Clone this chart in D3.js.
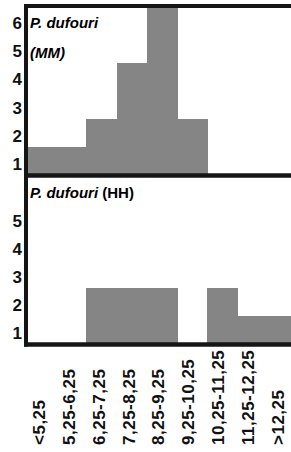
<!DOCTYPE html>
<html>
<head>
<meta charset="utf-8">
<script src="https://cdn.jsdelivr.net/npm/d3@7"></script>
<style>
  body { margin: 0; background: #fff; }
  svg { display: block; font-family: Arial, "Liberation Sans", sans-serif; }
</style>
</head>
<body>
<div id="chart"></div>
<script>
// size classes (mm)
var bins = ["<5,25", "5,25-6,25", "6,25-7,25", "7,25-8,25", "8,25-9,25",
            "9,25-10,25", "10,25-11,25", "11,25-12,25", ">12,25"];
// frequencies
var mmCounts = [1.5, 1.5, 2.5, 4.5, 6.5, 2.5, 0, 0, 0];
var hhCounts = [0, 0, 2.5, 2.5, 2.5, 0, 2.5, 1.5, 1.5];
var topTicks = [1, 2, 3, 4, 5, 6];
var bottomTicks = [1, 2, 3, 4, 5];

var w = 291, h = 452;
var left = 26;

var svg = d3.select("#chart")
  .append("svg")
    .attr("width", w)
    .attr("height", h);

var x = d3.scaleBand()
  .domain(bins)
  .range([left, 298])
  .padding(0);
// the class labels sit a little left of the bar centres
var xLab = x.copy().range([24, 293]);

// each panel has its own y scale, same domain
var yTop = d3.scaleLinear().domain([0.5, 6.5]).range([175.5, 6]);
var yBot = d3.scaleLinear().domain([0.5, 6.5]).range([344.5, 176]);

function drawPanel(data, y, ticks) {
  svg.append("g")
    .attr("shape-rendering", "crispEdges")
    .selectAll("rect")
    .data(data)
    .enter()
    .append("rect")
      .attr("x", function(d, i) { return x(bins[i]); })
      .attr("y", function(d) { return y(Math.max(d, 0.5)); })
      .attr("width", x.bandwidth() + 0.5)
      .attr("height", function(d) { return y(0.5) - y(Math.max(d, 0.5)); })
      .attr("fill", "#858585");

  var ax = svg.append("g")
    .attr("transform", "translate(" + left + ",0)")
    .call(d3.axisLeft(y).tickValues(ticks).tickSize(0).tickPadding(4).tickFormat(d3.format("d")));
  ax.select(".domain").remove();
  ax.selectAll("text")
    .attr("dy", "0.48em")
    .attr("font-size", "17px")
    .attr("font-weight", 700)
    .attr("fill", "#111");
}

drawPanel(mmCounts, yTop, topTicks);
drawPanel(hhCounts, yBot, bottomTicks);

// frame lines
var lineCol = "#151515";
svg.append("line").attr("x1", 24).attr("x2", w).attr("y1", 6).attr("y2", 6)
  .attr("stroke", lineCol).attr("stroke-width", 4);
svg.append("line").attr("x1", 24).attr("x2", w).attr("y1", 175.5).attr("y2", 175.5)
  .attr("stroke", lineCol).attr("stroke-width", 4.5);
svg.append("line").attr("x1", 24).attr("x2", w).attr("y1", 344.5).attr("y2", 344.5)
  .attr("stroke", lineCol).attr("stroke-width", 4.5);
svg.append("line").attr("x1", left).attr("x2", left).attr("y1", 4).attr("y2", 346.5)
  .attr("stroke", lineCol).attr("stroke-width", 4);

// panel titles
svg.append("text").attr("x", 30).attr("y", 28)
  .attr("font-size", "15px").attr("font-weight", 700).attr("font-style", "italic")
  .text("P. dufouri");
svg.append("text").attr("x", 30).attr("y", 58)
  .attr("font-size", "15px").attr("font-weight", 700).attr("font-style", "italic")
  .text("(MM)");
var t2 = svg.append("text").attr("x", 30).attr("y", 198)
  .attr("font-size", "15px").attr("font-weight", 700);
t2.append("tspan").attr("font-style", "italic").text("P. dufouri");
t2.append("tspan").text(" (HH)");

// x labels, rotated
var xa = svg.append("g")
  .attr("transform", "translate(0,445)")
  .call(d3.axisBottom(xLab).tickSize(0));
xa.select(".domain").remove();
xa.selectAll("text")
  .attr("transform", "rotate(-90)")
  .attr("x", 0)
  .attr("y", 0)
  .attr("dy", "0.35em")
  .attr("font-size", "17px")
  .attr("font-weight", 700)
  .attr("letter-spacing", "0.5px")
  .attr("fill", "#111")
  .style("text-anchor", "start");
</script>
</body>
</html>
